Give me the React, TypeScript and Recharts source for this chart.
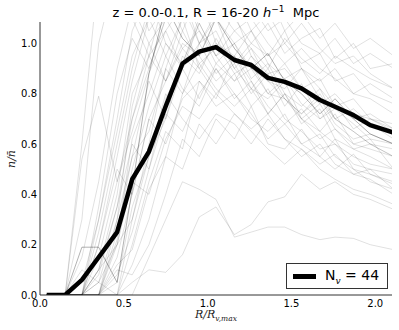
import { Legend, Line, LineChart, XAxis, YAxis } from "recharts";

// radius bins, in units of R_v,max
const R_GRID = [0.04, 0.15, 0.25, 0.35, 0.46, 0.55, 0.65, 0.75, 0.85, 0.95, 1.05, 1.16, 1.26, 1.36, 1.46, 1.56, 1.67, 1.76, 1.87, 1.97, 2.11];

// stacked (mean) profile
const MEAN = [0, 0, 0.06, 0.15, 0.25, 0.46, 0.57, 0.75, 0.92, 0.967, 0.985, 0.934, 0.914, 0.863, 0.847, 0.821, 0.775, 0.748, 0.715, 0.675, 0.645];

// individual void profiles
const VOID_01 = [0, 0, 0.19, 0.19, 0.05, 0.42, 0.88, 1.15, 1.02, 0.95, 1.1, 0.98, 0.9, 0.96, 0.85, 0.8, 0.72, 0.78, 0.7, 0.64, 0.6];
const VOID_02 = [0, 0, 0.54, 0.79, 0.45, 0.7, 0.95, 1.2, 1.05, 0.92, 0.98, 1.12, 0.95, 0.88, 0.9, 0.82, 0.86, 0.75, 0.7, 0.72, 0.66];
const VOID_03 = [0, 0, 0.6, 1.3, 1.1, 1.25, 1.05, 1.15, 1.3, 1.2, 1.1, 1.0, 1.05, 0.95, 1.0, 0.92, 0.96, 0.85, 0.88, 0.8, 0.76];
const VOID_04 = [0, 0, 0, 0.35, 0.8, 1.02, 0.9, 1.1, 1.2, 1.0, 1.05, 0.9, 0.98, 0.85, 0.82, 0.9, 0.78, 0.7, 0.74, 0.68, 0.62];
const VOID_05 = [0, 0, 0, 0.1, 0.35, 0.6, 0.5, 0.78, 0.92, 1.08, 0.95, 1.0, 0.86, 0.92, 0.8, 0.75, 0.82, 0.7, 0.65, 0.6, 0.55];
const VOID_06 = [0, 0, 0, 0, 0.25, 0.55, 0.85, 0.7, 0.95, 0.88, 1.02, 0.9, 0.82, 0.78, 0.85, 0.7, 0.65, 0.72, 0.6, 0.62, 0.5];
const VOID_07 = [0, 0, 0, 0.05, 0, 0.3, 0.6, 0.9, 1.1, 1.25, 1.15, 1.05, 1.1, 1.0, 0.92, 0.98, 0.9, 0.86, 0.8, 0.84, 0.78];
const VOID_08 = [0, 0, 0, 0, 0, 0.2, 0.45, 0.65, 0.58, 0.85, 0.78, 0.95, 0.85, 0.72, 0.8, 0.68, 0.74, 0.62, 0.58, 0.55, 0.5];
const VOID_09 = [0, 0, 0.1, 0.05, 0.2, 0.5, 0.75, 0.95, 0.82, 0.75, 0.9, 0.8, 0.7, 0.65, 0.72, 0.6, 0.55, 0.62, 0.5, 0.48, 0.44];
const VOID_10 = [0, 0, 0, 0.25, 0.6, 0.9, 1.15, 1.3, 1.2, 1.05, 0.95, 1.05, 0.98, 0.9, 1.02, 0.94, 0.88, 0.95, 0.9, 0.86, 0.82];
const VOID_11 = [0, 0, 0, 0, 0.1, 0.08, 0.2, 0.4, 0.62, 0.55, 0.7, 0.62, 0.75, 0.6, 0.58, 0.66, 0.55, 0.5, 0.56, 0.48, 0.45];
const VOID_12 = [0, 0, 0, 0, 0, 0.05, 0.1, 0.09, 0.16, 0.31, 0.35, 0.24, 0.28, 0.37, 0.39, 0.48, 0.42, 0.45, 0.4, 0.38, 0.34];
const VOID_13 = [0, 0, 0, 0, 0, 0, 0.15, 0.3, 0.45, 0.42, 0.38, 0.23, 0.25, 0.27, 0.27, 0.24, 0.22, 0.23, 0.225, 0.2, 0.18];
const VOID_14 = [0, 0, 0.05, 0.3, 0.7, 1.05, 1.2, 1.0, 0.9, 1.08, 0.95, 0.85, 0.9, 0.8, 0.78, 0.7, 0.76, 0.66, 0.6, 0.58, 0.55];
const VOID_15 = [0, 0, 0, 0, 0.3, 0.75, 1.0, 0.85, 0.98, 0.9, 0.8, 0.88, 0.75, 0.82, 0.7, 0.65, 0.58, 0.6, 0.52, 0.5, 0.48];
const VOID_16 = [0, 0, 0, 0.15, 0.45, 0.65, 0.88, 1.05, 1.15, 1.0, 1.12, 1.2, 1.05, 1.12, 1.0, 1.08, 0.98, 0.92, 0.95, 0.88, 0.82];
const VOID_17 = [0, 0, 0, 0, 0.05, 0.35, 0.55, 0.8, 0.7, 0.62, 0.72, 0.68, 0.6, 0.7, 0.62, 0.55, 0.6, 0.52, 0.48, 0.5, 0.42];
const VOID_18 = [0, 0, 0, 0.2, 0.5, 0.4, 0.7, 0.85, 1.0, 0.95, 0.85, 0.92, 0.8, 0.88, 0.75, 0.84, 0.7, 0.76, 0.66, 0.7, 0.65];
const VOID_19 = [0, 0, 0, 0, 0, 0.12, 0.3, 0.55, 0.8, 1.0, 1.1, 0.92, 1.0, 0.95, 1.05, 0.9, 0.85, 0.9, 0.8, 0.78, 0.72];
const VOID_20 = [0, 0, 0.3, 1.0, 1.3, 1.1, 0.95, 1.05, 0.9, 1.0, 0.88, 0.95, 0.82, 0.9, 0.78, 0.72, 0.8, 0.7, 0.65, 0.6, 0.58];
const VOID_21 = [0, 0, 0, 0.1, 0.2, 0.45, 0.4, 0.62, 0.75, 0.7, 0.8, 0.72, 0.66, 0.72, 0.62, 0.58, 0.52, 0.56, 0.48, 0.46, 0.4];
const VOID_22 = [0, 0, 0, 0, 0.15, 0.4, 0.7, 0.6, 0.78, 0.85, 0.75, 0.8, 0.72, 0.62, 0.68, 0.6, 0.64, 0.55, 0.5, 0.45, 0.42];
const VOID_23 = [0, 0, 0, 0.3, 0.65, 0.95, 1.1, 1.2, 1.35, 1.15, 1.2, 1.1, 1.15, 1.05, 1.1, 1.0, 0.96, 1.02, 0.92, 0.96, 0.9];
const VOID_24 = [0, 0, 0, 0, 0.08, 0.25, 0.5, 0.72, 0.65, 0.8, 0.9, 0.78, 0.85, 0.75, 0.68, 0.74, 0.65, 0.6, 0.55, 0.52, 0.5];
const VOID_25 = [0, 0, 0, 0.05, 0.3, 0.55, 0.65, 0.9, 0.8, 0.92, 0.82, 0.75, 0.82, 0.72, 0.8, 0.7, 0.62, 0.66, 0.58, 0.6, 0.55];
const VOID_26 = [0, 0, 0.15, 0.45, 0.9, 1.15, 1.0, 1.1, 0.98, 1.05, 0.92, 1.0, 0.9, 0.85, 0.92, 0.82, 0.76, 0.8, 0.72, 0.7, 0.66];
const VOID_27 = [0, 0, 0, 0, 0.2, 0.3, 0.55, 0.7, 0.9, 0.78, 0.92, 0.85, 0.95, 0.85, 0.78, 0.72, 0.78, 0.68, 0.62, 0.64, 0.6];
const VOID_28 = [0, 0, 0, 0.1, 0.4, 0.8, 0.95, 0.85, 1.05, 1.2, 1.0, 0.95, 1.05, 0.92, 0.86, 0.9, 0.82, 0.75, 0.78, 0.7, 0.68];
const VOID_29 = [0, 0, 0, 0, 0.12, 0.18, 0.42, 0.55, 0.5, 0.68, 0.6, 0.72, 0.65, 0.58, 0.52, 0.58, 0.5, 0.46, 0.42, 0.4, 0.36];
const VOID_30 = [0, 0, 0, 0.2, 0.55, 0.85, 1.1, 0.95, 1.1, 0.9, 1.0, 0.88, 0.92, 0.8, 0.86, 0.76, 0.7, 0.74, 0.68, 0.62, 0.6];
const VOID_31 = [0, 0, 0, 0.08, 0.35, 0.7, 0.9, 1.1, 1.2, 1.3, 1.15, 1.25, 1.1, 1.2, 1.05, 1.12, 1.02, 1.08, 0.98, 1.02, 0.95];
const VOID_32 = [0, 0, 0, 0, 0.22, 0.62, 0.8, 1.0, 0.92, 1.1, 1.25, 1.1, 1.0, 1.08, 0.96, 1.02, 1.06, 0.94, 1.0, 0.9, 0.92];

const VOID_PROFILES = [
  VOID_01, VOID_02, VOID_03, VOID_04, VOID_05, VOID_06, VOID_07, VOID_08,
  VOID_09, VOID_10, VOID_11, VOID_12, VOID_13, VOID_14, VOID_15, VOID_16,
  VOID_17, VOID_18, VOID_19, VOID_20, VOID_21, VOID_22, VOID_23, VOID_24,
  VOID_25, VOID_26, VOID_27, VOID_28, VOID_29, VOID_30, VOID_31, VOID_32,
];

const X_TICKS = [0, 0.5, 1.0, 1.5, 2.0];
const Y_TICKS = [0, 0.2, 0.4, 0.6, 0.8, 1.0];
const X_DOMAIN: [number, number] = [0, 2.1];
const Y_DOMAIN: [number, number] = [0, 1.085];
const N_VOIDS = 44;

const rows = R_GRID.map((r, i) => {
  const row: Record<string, number> = { r, mean: MEAN[i] };
  VOID_PROFILES.forEach((p, j) => {
    row[`v${j}`] = p[i];
  });
  return row;
});

const FRAME = "#333";
const TICK_FONT = { fontSize: 10, fill: "#000", fontFamily: "DejaVu Sans" };
const fmt = (v: number) => v.toFixed(1);

function LegendBox() {
  return (
    <div
      style={{
        width: 100,
        height: 24,
        border: `1px solid ${FRAME}`,
        background: "#fff",
        display: "flex",
        alignItems: "center",
        fontFamily: "DejaVu Sans",
        fontSize: 14,
        color: "#000",
      }}
    >
      <svg width={38} height={24}>
        <line x1={6} y1={12.5} x2={29} y2={12.5} stroke="#000" strokeWidth={5} />
      </svg>
      <span>
        N<sub style={{ fontSize: 9, fontStyle: "italic", fontFamily: "DejaVu Serif" }}>v</sub> = {N_VOIDS}
      </span>
    </div>
  );
}

export default function App() {
  return (
    <div style={{ position: "absolute", left: 0, top: 0, width: 399, height: 330, background: "#fff", fontFamily: "DejaVu Sans" }}>
      <LineChart width={399} height={330} data={rows} margin={{ top: 22, right: 7, bottom: 0, left: 0 }}>
        <XAxis
          dataKey="r"
          type="number"
          domain={X_DOMAIN}
          ticks={X_TICKS}
          allowDataOverflow
          height={35}
          tickFormatter={fmt}
          tickLine={false}
          tickSize={0}
          tickMargin={5}
          axisLine={{ stroke: FRAME }}
          tick={TICK_FONT}
        />
        <XAxis
          xAxisId="bottomTicks"
          type="number"
          domain={X_DOMAIN}
          ticks={X_TICKS}
          allowDataOverflow
          mirror
          height={0}
          tick={false}
          tickSize={4}
          axisLine={false}
          tickLine={{ stroke: FRAME }}
        />
        <XAxis
          xAxisId="top"
          orientation="top"
          type="number"
          domain={X_DOMAIN}
          ticks={X_TICKS}
          allowDataOverflow
          mirror
          height={0}
          tick={false}
          tickSize={4}
          axisLine={{ stroke: FRAME }}
          tickLine={{ stroke: FRAME }}
        />
        <YAxis
          type="number"
          domain={Y_DOMAIN}
          ticks={Y_TICKS}
          allowDataOverflow
          width={40}
          tickFormatter={fmt}
          tickLine={false}
          tickSize={0}
          tickMargin={3}
          axisLine={{ stroke: FRAME }}
          tick={TICK_FONT}
        />
        <YAxis
          yAxisId="leftTicks"
          type="number"
          domain={Y_DOMAIN}
          ticks={Y_TICKS}
          allowDataOverflow
          mirror
          width={0}
          tick={false}
          tickSize={4}
          axisLine={false}
          tickLine={{ stroke: FRAME }}
        />
        <YAxis
          yAxisId="right"
          orientation="right"
          type="number"
          domain={Y_DOMAIN}
          ticks={Y_TICKS}
          allowDataOverflow
          mirror
          width={0}
          tick={false}
          tickSize={4}
          axisLine={{ stroke: FRAME }}
          tickLine={{ stroke: FRAME }}
        />
        {VOID_PROFILES.map((_, j) => (
          <Line
            key={j}
            dataKey={`v${j}`}
            stroke="#000"
            strokeOpacity={j === 0 ? 0.3 : 0.12}
            strokeWidth={1}
            dot={false}
            activeDot={false}
            isAnimationActive={false}
            legendType="none"
          />
        ))}
        <Line
          dataKey="mean"
          stroke="#000"
          strokeWidth={4.5}
          strokeLinejoin="round"
          dot={false}
          activeDot={false}
          isAnimationActive={false}
        />
        <Legend
          layout="vertical"
          align="center"
          verticalAlign="middle"
          content={() => <LegendBox />}
          wrapperStyle={{ position: "absolute", left: 286, top: 263, width: 102, height: 26 }}
        />
      </LineChart>
      <svg width={399} height={330} style={{ position: "absolute", left: 0, top: 0, pointerEvents: "none" }}>
        <text x={216} y={17} textAnchor="middle" fontSize={13} fontFamily="DejaVu Sans" fill="#000">
          z = 0.0-0.1, R = 16-20{" "}
          <tspan fontStyle="italic">h</tspan>
          <tspan fontSize={9} dy={-5}>−1</tspan>
          <tspan dy={5}>{"\u00a0\u00a0"}Mpc</tspan>
        </text>
        <text x={216} y={318} textAnchor="middle" fontSize={11} fontFamily="DejaVu Serif" fontStyle="italic" fill="#222">
          R/R
          <tspan fontSize={7.5} dy={2.5}>v,max</tspan>
        </text>
        <text
          transform="translate(15,159) rotate(-90)"
          textAnchor="middle"
          fontSize={11}
          fontFamily="DejaVu Serif"
          fontStyle="italic"
          fill="#222"
        >
          n/n̄
        </text>
      </svg>
    </div>
  );
}
